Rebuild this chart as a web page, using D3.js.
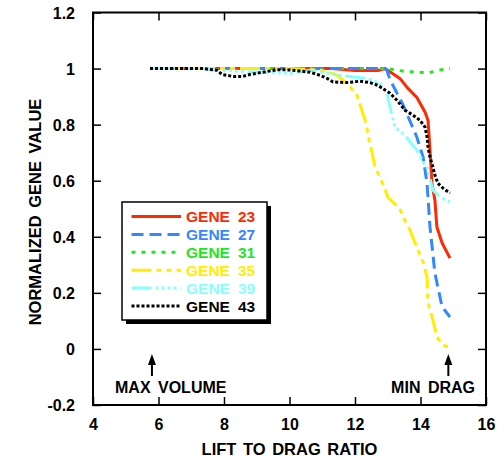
<!DOCTYPE html>
<html>
<head>
<meta charset="utf-8">
<script src="https://cdn.jsdelivr.net/npm/d3@7"></script>
<style>
  html, body { margin: 0; padding: 0; background: #fff; }
  svg { display: block; }
  text { font-family: "Liberation Sans", Arial, Helvetica, sans-serif; font-weight: bold; }
</style>
</head>
<body>
<svg id="chart" width="499" height="461"></svg>
<script>
// ---- data ----
const xTicks = [4, 6, 8, 10, 12, 14, 16];
const xTickLabels = ["4", "6", "8", "10", "12", "14", "16"];
const yTicks = [-0.2, 0, 0.2, 0.4, 0.6, 0.8, 1, 1.2];
const yTickLabels = ["-0.2", "0", "0.2", "0.4", "0.6", "0.8", "1", "1.2"];

const gene23X = [5.74, 11.3, 12.0, 12.7, 12.92, 13.37, 13.59, 13.89, 14.14, 14.23, 14.29, 14.35, 14.44, 14.5, 14.66, 14.9];
const gene23Y = [1.0, 1.0, 0.993, 0.993, 1.0, 0.965, 0.933, 0.897, 0.844, 0.815, 0.709, 0.59, 0.53, 0.435, 0.378, 0.324];

const gene27X = [5.74, 12.9, 12.97, 13.07, 13.47, 13.89, 14.08, 14.2, 14.29, 14.44, 14.66, 14.9];
const gene27Y = [1.0, 1.0, 0.995, 0.96, 0.87, 0.755, 0.684, 0.59, 0.435, 0.27, 0.15, 0.114];

const gene31X = [5.74, 13.0, 13.5, 13.9, 14.25, 14.6, 14.9];
const gene31Y = [1.0, 1.0, 0.99, 0.987, 0.985, 0.995, 1.0];

const gene35X = [5.74, 10.0, 10.93, 11.39, 11.63, 11.85, 12.06, 12.21, 12.34, 12.41, 12.52, 12.61, 12.82, 13.01, 13.37, 13.47, 13.68, 13.92, 14.08, 14.2, 14.23, 14.38, 14.5, 14.69, 14.9];
const gene35Y = [1.0, 1.0, 0.995, 0.98, 0.96, 0.934, 0.905, 0.851, 0.805, 0.757, 0.70, 0.65, 0.596, 0.54, 0.50, 0.47, 0.424, 0.353, 0.31, 0.256, 0.164, 0.103, 0.043, 0.014, 0.004];

const gene39X = [5.74, 7.36, 7.79, 9.1, 10.1, 10.63, 11.54, 11.94, 12.37, 12.76, 12.98, 13.07, 13.22, 13.53, 13.68, 13.89, 14.08, 14.2, 14.38, 14.6, 14.9];
const gene39Y = [1.0, 1.0, 0.994, 0.987, 0.983, 0.994, 0.976, 0.97, 0.965, 0.947, 0.912, 0.862, 0.791, 0.762, 0.738, 0.709, 0.666, 0.648, 0.566, 0.541, 0.524];

const gene43X = [5.74, 7.36, 7.79, 7.94, 8.27, 8.58, 8.79, 9.19, 9.62, 10.02, 10.32, 10.63, 10.93, 11.15, 11.33, 11.76, 12.15, 12.46, 12.7, 13.07, 13.28, 13.53, 13.77, 13.98, 14.14, 14.2, 14.23, 14.29, 14.38, 14.44, 14.53, 14.69, 14.9];
const gene43Y = [1.0, 1.0, 0.994, 0.979, 0.972, 0.972, 0.979, 0.987, 0.996, 0.995, 0.991, 0.987, 0.976, 0.965, 0.952, 0.95, 0.955, 0.95, 0.94, 0.912, 0.887, 0.851, 0.834, 0.816, 0.791, 0.755, 0.72, 0.684, 0.648, 0.62, 0.591, 0.573, 0.556];

const seriesNames = ["23", "27", "31", "35", "39", "43"];
const seriesXs = [gene23X, gene27X, gene31X, gene35X, gene39X, gene43X];
const seriesYs = [gene23Y, gene27Y, gene31Y, gene35Y, gene39Y, gene43Y];
const seriesColors = ["#ff2a00", "#3388ff", "#22e622", "#ffee00", "#88ffff", "#000000"];
const seriesDash = [null, "12,6", "4,6", "20,5,5,5,5,5", "20,4,3,3,3,3,3,3,3,4", "3,2"];

const annotations = [
  { x: 5.8, label: "MAX VOLUME" },
  { x: 14.85, label: "MIN DRAG" }
];

// ---- chart ----
const svg = d3.select("#chart");
const x = d3.scaleLinear().domain([4, 16]).range([93, 486]);
const y = d3.scaleLinear().domain([-0.2, 1.2]).range([405, 12.5]);

const frame = svg.append("g");
// axes with inward ticks
const tick = 8;
const xb = svg.append("g").attr("transform", `translate(0,${y(-0.2)})`)
  .call(d3.axisBottom(x).tickValues(xTicks).tickSize(-tick).tickFormat((d, i) => xTickLabels[i]).tickPadding(tick + 6));
const xt = svg.append("g").attr("transform", `translate(0,${y(1.2)})`)
  .call(d3.axisTop(x).tickValues(xTicks).tickSize(-tick).tickFormat(""));
const yl = svg.append("g").attr("transform", `translate(${x(4)},0)`)
  .call(d3.axisLeft(y).tickValues(yTicks).tickSize(-tick).tickFormat((d, i) => yTickLabels[i]).tickPadding(tick + 10));
const yr = svg.append("g").attr("transform", `translate(${x(16)},0)`)
  .call(d3.axisRight(y).tickValues(yTicks).tickSize(-tick).tickFormat(""));

[xb, xt, yl, yr].forEach(g => {
  g.select(".domain").remove();
  g.selectAll(".tick line").attr("stroke", "#000").attr("stroke-width", 1.5);
  g.selectAll("text").attr("font-size", 16).attr("fill", "#000")
    .attr("font-family", '"Liberation Sans", Arial, sans-serif').attr("font-weight", "bold");
});
yl.selectAll("text").attr("dy", "0.35em");

frame.append("rect")
  .attr("x", x(4)).attr("y", y(1.2))
  .attr("width", x(16) - x(4)).attr("height", y(-0.2) - y(1.2))
  .attr("fill", "none").attr("stroke", "#000").attr("stroke-width", 2);

// series lines (black last, on top, as in the reference)
const line = d3.line().x(d => x(d[0])).y(d => y(d[1]));
const linesG = svg.append("g");
const order = [0, 2, 1, 3, 4, 5];
order.forEach(i => {
  const pts = seriesXs[i].map((v, k) => [v, seriesYs[i][k]]);
  linesG.append("path")
    .datum(pts)
    .attr("d", line)
    .attr("fill", "none")
    .attr("stroke", seriesColors[i])
    .attr("stroke-width", 3)
    .attr("stroke-linejoin", "round")
    .attr("stroke-dasharray", seriesDash[i]);
});

// annotations
annotations.forEach((a, i) => {
  const ax = x(a.x);
  svg.append("line").attr("x1", ax).attr("x2", ax).attr("y1", 362).attr("y2", 376)
    .attr("stroke", "#000").attr("stroke-width", 2);
  svg.append("path").attr("d", `M${ax - 4},${365} L${ax},${354} L${ax + 4},${365} Z`).attr("fill", "#000");
  svg.append("text")
    .attr("x", i === 0 ? 115 : 475)
    .attr("y", 393)
    .attr("text-anchor", i === 0 ? "start" : "end")
    .attr("font-size", 16)
    .attr("word-spacing", 3)
    .text(a.label);
});

// axis titles
svg.append("text")
  .attr("x", (x(4) + x(16)) / 2).attr("y", 455)
  .attr("text-anchor", "middle").attr("font-size", 16.5)
  .attr("word-spacing", 2)
  .text("LIFT TO DRAG RATIO");
svg.append("text")
  .attr("transform", `translate(41,${212}) rotate(-90)`)
  .attr("text-anchor", "middle").attr("font-size", 16.5)
  .attr("word-spacing", 3)
  .text("NORMALIZED GENE VALUE");

// legend
const lg = svg.append("g");
const lx = 122, ly = 202, lw = 145, lh = 118;
lg.append("rect").attr("x", lx + 4).attr("y", ly + 4).attr("width", lw).attr("height", lh).attr("fill", "#000");
lg.append("rect").attr("x", lx).attr("y", ly).attr("width", lw).attr("height", lh)
  .attr("fill", "#fff").attr("stroke", "#000").attr("stroke-width", 1.5);
seriesNames.forEach((n, i) => {
  const cy = 216.5 + i * 17.9;
  lg.append("line").attr("x1", 131.5).attr("x2", 181).attr("y1", cy).attr("y2", cy)
    .attr("stroke", seriesColors[i]).attr("stroke-width", 3)
    .attr("stroke-dasharray", seriesDash[i]);
  lg.append("text").attr("x", 186).attr("y", cy + 5.5).attr("font-size", 15.5)
    .attr("fill", seriesColors[i]).text("GENE");
  lg.append("text").attr("x", 238).attr("y", cy + 5.5).attr("font-size", 15.5)
    .attr("fill", seriesColors[i]).text(n);
});
</script>
</body>
</html>
